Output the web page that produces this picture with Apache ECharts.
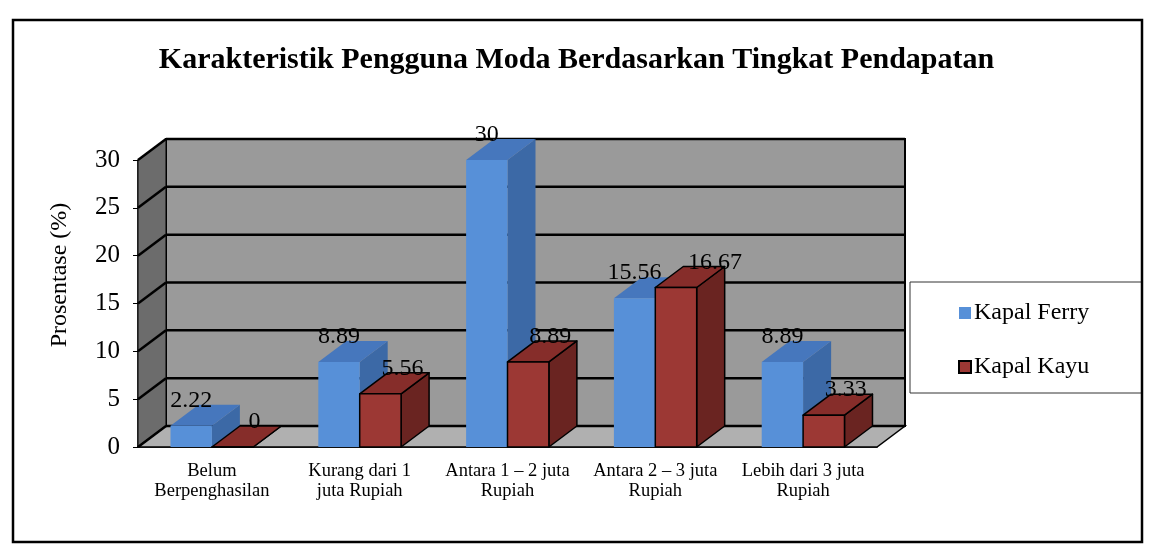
<!DOCTYPE html>
<html>
<head>
<meta charset="utf-8">
<script src="https://cdn.jsdelivr.net/npm/echarts@6/dist/echarts.min.js"></script>
<style>
  html, body { margin: 0; padding: 0; background: #fff; }
  #chart { width: 1153px; height: 555px; }
</style>
</head>
<body>
<div id="chart"></div>
<script>
// data
const categories = [
  'Belum\nBerpenghasilan',
  'Kurang dari 1\njuta Rupiah',
  'Antara 1 – 2 juta\nRupiah',
  'Antara 2 – 3 juta\nRupiah',
  'Lebih dari 3 juta\nRupiah',
]
const ferry = [2.22, 8.89, 30, 15.56, 8.89]
const kayu = [0, 5.56, 8.89, 16.67, 3.33]
const yTicks = [0, 5, 10, 15, 20, 25, 30]

const FONT = '"Liberation Serif", "Times New Roman", serif'
const DX = 28 // depth of the fake 3d box, px
const DY = -21

const blue = { front: '#5790d8', side: '#3c69a6', top: '#4677bd' }
const red = { front: '#9c3834', side: '#6a2421', top: '#862d2a' }

const chart = echarts.init(document.getElementById('chart'))

// walls, floor and grid lines of the 3d box
function renderWalls(params, api) {
  const cs = params.coordSys
  const x0 = cs.x, x1 = cs.x + cs.width
  const yb = api.coord([0, 0])[1]
  const yt = api.coord([0, yTicks[yTicks.length - 1]])[1]
  const line = { stroke: '#000', lineWidth: 2.5 }
  const children = [
    { type: 'rect', shape: { x: x0 + DX, y: yt + DY, width: x1 - x0, height: yb - yt },
      style: { fill: '#9a9a9a', stroke: '#000', lineWidth: 2 } },
    { type: 'polygon', shape: { points: [[x0, yb], [x0, yt], [x0 + DX, yt + DY], [x0 + DX, yb + DY]] },
      style: { fill: '#6c6c6c', stroke: '#000', lineWidth: 1 } },
    { type: 'polygon', shape: { points: [[x0, yb], [x1, yb], [x1 + DX, yb + DY], [x0 + DX, yb + DY]] },
      style: { fill: '#b0b0b0', stroke: '#000', lineWidth: 1.5 } },
  ]
  yTicks.forEach((v) => {
    const y = api.coord([0, v])[1]
    children.push({ type: 'line', shape: { x1: x0 + DX, y1: y + DY, x2: x1 + DX, y2: y + DY }, style: line })
    children.push({ type: 'line', shape: { x1: x0, y1: y, x2: x0 + DX, y2: y + DY }, style: line })
  })
  return { type: 'group', children }
}

function barRenderer(colors, side, outline, labelDx) {
  return function (params, api) {
    const cat = api.value(0)
    const val = api.value(1)
    const base = api.coord([cat, 0])
    const top = api.coord([cat, val])
    const bw = api.size([1, 0])[0] * 0.28
    const x1 = side < 0 ? base[0] - bw : base[0]
    const x2 = x1 + bw
    const yb = base[1], yt = top[1]
    const st = outline ? { stroke: '#000', lineWidth: 1.5, lineJoin: 'round' } : {}
    const dx = typeof labelDx === 'function' ? labelDx(params.dataIndex) : labelDx
    return {
      type: 'group',
      children: [
        { type: 'polygon', shape: { points: [[x2, yt], [x2 + DX, yt + DY], [x2 + DX, yb + DY], [x2, yb]] },
          style: Object.assign({ fill: colors.side }, st) },
        { type: 'polygon', shape: { points: [[x1, yt], [x1 + DX, yt + DY], [x2 + DX, yt + DY], [x2, yt]] },
          style: Object.assign({ fill: colors.top }, st) },
        { type: 'rect', shape: { x: x1, y: yt, width: bw, height: yb - yt },
          style: Object.assign({ fill: colors.front }, st) },
        { type: 'text', z2: 100, x: (x1 + x2) / 2 + dx, y: yt - 25,
          style: { text: String(val), fill: '#000', fontSize: 24, fontFamily: FONT,
            align: 'center', verticalAlign: 'middle' } },
      ],
    }
  }
}

chart.setOption({
  animation: false,
  backgroundColor: '#fff',
  title: {
    text: 'Karakteristik Pengguna Moda Berdasarkan Tingkat Pendapatan',
    left: 'center',
    top: 40,
    textStyle: { fontFamily: FONT, fontWeight: 'bold', fontSize: 30, color: '#000' },
  },
  graphic: [
    { type: 'rect', shape: { x: 13, y: 20, width: 1129, height: 522 },
      style: { fill: 'none', stroke: '#000', lineWidth: 2.5 }, z: 10 },
    { type: 'rect', shape: { x: 910, y: 282, width: 232, height: 111 },
      style: { fill: '#fff', stroke: '#333', lineWidth: 1 }, z: 1 },
    // axis title, Excel centres it on the wall rather than the front plane
    { type: 'text', x: 60, y: 275, rotation: Math.PI / 2,
      style: { text: 'Prosentase (%)', fill: '#000', fontSize: 24, fontFamily: FONT,
        align: 'center', verticalAlign: 'middle' } },
  ],
  legend: {
    orient: 'vertical',
    left: 953,
    top: 296,
    itemWidth: 12,
    itemHeight: 12,
    itemGap: 30,
    textStyle: { fontFamily: FONT, fontSize: 24, color: '#000', padding: [0, 0, 0, -2] },
    data: [
      { name: 'Kapal Ferry', icon: 'rect', itemStyle: { color: blue.front } },
      { name: 'Kapal Kayu', icon: 'rect', itemStyle: { color: red.front, borderColor: '#000', borderWidth: 2 } },
    ],
  },
  grid: { left: 138, right: 276, top: 160, bottom: 108 },
  xAxis: {
    type: 'category',
    data: categories,
    axisLine: { lineStyle: { color: '#000', width: 1.5 } },
    axisTick: { length: 5, lineStyle: { color: '#000' } },
    axisLabel: { interval: 0, color: '#000', fontFamily: FONT, fontSize: 18.5, lineHeight: 20, margin: 14 },
  },
  yAxis: {
    type: 'value',
    min: 0,
    max: 30,
    interval: 5,
    axisLine: { show: true, lineStyle: { color: '#000', width: 1.5 } },
    axisTick: { show: true, length: 5, lineStyle: { color: '#000' } },
    axisLabel: { color: '#000', fontFamily: FONT, fontSize: 25, margin: 18 },
    splitLine: { show: false },
  },
  series: [
    {
      type: 'custom',
      name: 'walls',
      silent: true,
      z: 1,
      renderItem: renderWalls,
      data: [[0, 0]],
    },
    {
      type: 'custom',
      name: 'Kapal Ferry',
      itemStyle: { color: blue.front },
      z: 3,
      renderItem: barRenderer(blue, -1, false, 0),
      data: ferry.map((v, i) => [i, v]),
    },
    {
      type: 'custom',
      name: 'Kapal Kayu',
      itemStyle: { color: red.front },
      z: 3,
      renderItem: barRenderer(red, 1, true, (i) => (i === 3 ? 39 : 22)),
      data: kayu.map((v, i) => [i, v]),
    },
  ],
})
</script>
</body>
</html>
